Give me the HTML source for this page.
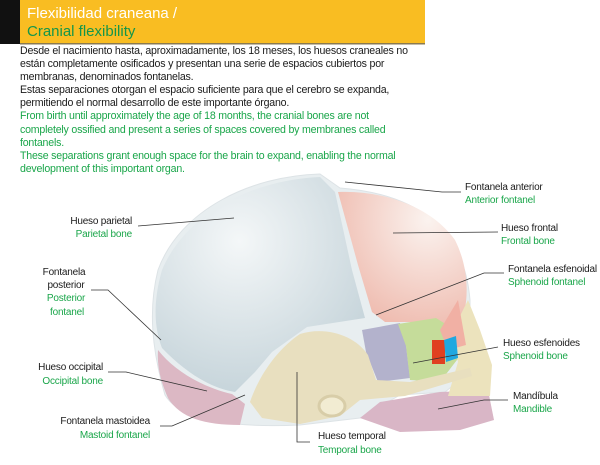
<!DOCTYPE html>
<html><head><meta charset="utf-8"><style>
body{margin:0;width:600px;height:465px;background:#fff;overflow:hidden;font-family:"Liberation Sans",sans-serif}
svg{position:absolute;left:0;top:0}
.t{position:absolute;left:20px;top:45px;font-size:10.6px;line-height:13.1px;color:#1a1a1a;letter-spacing:-0.2px}
.g{color:#1aa64a}
</style></head><body>
<svg width="600" height="465" viewBox="0 0 600 465">
<rect x="0" y="0" width="20" height="44" fill="#111"/>
<rect x="20" y="0" width="405" height="44" fill="#f9bd22"/>
<rect x="20" y="43" width="405" height="1.5" fill="#8a7a50"/>
<text x="27" y="18" font-size="15" fill="#fff" font-family="Liberation Sans">Flexibilidad craneana /</text>
<text x="27" y="36" font-size="15" fill="#14964a" font-family="Liberation Sans">Cranial flexibility</text>
<defs>
<radialGradient id="pg" cx="0.4" cy="0.3" r="0.7"><stop offset="0" stop-color="#f4f7f8"/><stop offset="1" stop-color="#c7d5db"/></radialGradient>
<radialGradient id="fg" cx="0.7" cy="0.2" r="0.8"><stop offset="0" stop-color="#fbf3ef"/><stop offset="1" stop-color="#efbcb0"/></radialGradient>
</defs>
<path d="M320,174 C250,176 180,210 158,270 C148,310 152,350 165,395 C180,420 230,428 300,425 L360,418 L400,395 L445,392 L470,372 L470,300 C465,240 430,195 340,188 Z" fill="#e8eef0" stroke="#dde3e6" stroke-width="1"/>
<path d="M320,177 C250,180 185,215 162,270 C152,305 155,330 162,348 C185,372 210,388 235,392 L255,372 L272,352 L307,327 L365,318 L352,270 L335,192 Z" fill="url(#pg)"/>
<path d="M338,192 C380,190 430,205 455,240 C470,270 470,305 458,332 L420,322 L385,322 L372,312 L358,265 Z" fill="url(#fg)"/>
<path d="M158,350 C175,372 205,388 232,394 L245,404 L240,425 C205,425 180,418 168,398 C160,380 157,365 158,350 Z" fill="#dcb8c4"/>
<path d="M380,402 L440,392 L488,390 L494,420 L460,430 L400,432 L360,418 Z" fill="#d9b6c6"/>
<path d="M362,330 L400,323 L406,345 L410,378 L378,382 L366,352 Z" fill="#b3b2cc"/>
<path d="M398,324 L436,318 L455,330 L460,356 L440,382 L410,380 L406,346 Z" fill="#c5dc9a"/>
<path d="M452,332 L468,300 L480,330 L492,365 L490,396 L448,396 L458,362 Z" fill="#ece3bd"/>
<path d="M440,330 L458,300 L466,345 L448,350 Z" fill="#f1b0a4"/>
<rect x="432" y="340" width="13" height="24" fill="#e04020"/>
<path d="M444,340 L456,336 L458,358 L446,362 Z" fill="#20a8e0"/>
<path d="M250,402 C258,378 276,350 300,334 C325,326 355,335 368,355 L376,380 L410,382 L470,368 L472,376 L405,396 L360,400 L340,416 L300,424 L262,418 Z" fill="#e8dfbf"/>
<ellipse cx="332" cy="406" rx="13" ry="10" fill="#f2ecd2" stroke="#d8cda8" stroke-width="3"/>
<g stroke="#333" stroke-width="0.8" fill="none">
<polyline points="345,182 442,192 461,192"/>
<polyline points="138,226 234,218"/>
<polyline points="393,233 498,232"/>
<polyline points="376,315 484,273 504,273"/>
<polyline points="91,290 108,290 161,340"/>
<polyline points="413,363 498,347"/>
<polyline points="108,372 126,372 207,391"/>
<polyline points="438,409 484,400 508,400"/>
<polyline points="160,426 172,426 245,395"/>
<polyline points="297,372 297,442 310,442"/>
</g>
<g font-family="Liberation Sans" font-size="10" letter-spacing="-0.2" fill="#1a1a1a">
<text x="465" y="190">Fontanela anterior</text>
<text x="465" y="203" fill="#1aa64a">Anterior fontanel</text>
<text x="132" y="224" text-anchor="end">Hueso parietal</text>
<text x="132" y="237" text-anchor="end" fill="#1aa64a">Parietal bone</text>
<text x="501" y="231">Hueso frontal</text>
<text x="501" y="244" fill="#1aa64a">Frontal bone</text>
<text x="508" y="272">Fontanela esfenoidal</text>
<text x="508" y="285" fill="#1aa64a">Sphenoid fontanel</text>
<text x="64" y="275" text-anchor="middle">Fontanela</text>
<text x="66" y="288" text-anchor="middle">posterior</text>
<text x="66" y="301" text-anchor="middle" fill="#1aa64a">Posterior</text>
<text x="67" y="315" text-anchor="middle" fill="#1aa64a">fontanel</text>
<text x="503" y="346">Hueso esfenoides</text>
<text x="503" y="359" fill="#1aa64a">Sphenoid bone</text>
<text x="103" y="370" text-anchor="end">Hueso occipital</text>
<text x="103" y="384" text-anchor="end" fill="#1aa64a">Occipital bone</text>
<text x="513" y="399">Mandíbula</text>
<text x="513" y="412" fill="#1aa64a">Mandible</text>
<text x="150" y="424" text-anchor="end">Fontanela mastoidea</text>
<text x="150" y="438" text-anchor="end" fill="#1aa64a">Mastoid fontanel</text>
<text x="318" y="439">Hueso temporal</text>
<text x="318" y="453" fill="#1aa64a">Temporal bone</text>
</g>
</svg>
<div class="t">Desde el nacimiento hasta, aproximadamente, los 18 meses, los huesos craneales no<br>están completamente osificados y presentan una serie de espacios cubiertos por<br>membranas, denominados fontanelas.<br>Estas separaciones otorgan el espacio suficiente para que el cerebro se expanda,<br>permitiendo el normal desarrollo de este importante órgano.<br><span class="g">From birth until approximately the age of 18 months, the cranial bones are not<br>completely ossified and present a series of spaces covered by membranes called<br>fontanels.<br>These separations grant enough space for the brain to expand, enabling the normal<br>development of this important organ.</span></div>
</body></html>
